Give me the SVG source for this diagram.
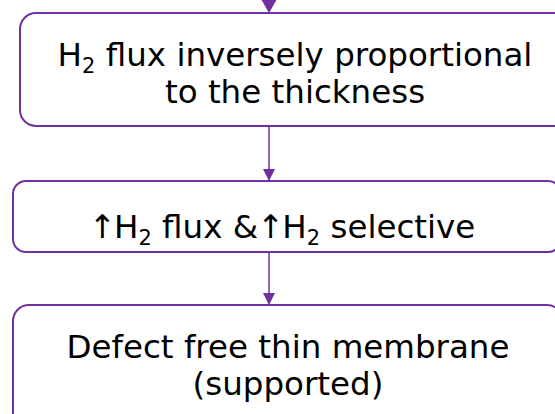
<svg xmlns="http://www.w3.org/2000/svg" width="555" height="414" viewBox="0 0 555 414">
  <style>
    .box { fill: #ffffff; stroke: #7030a0; stroke-width: 2; }
    .lbl { font-family: "DejaVu Sans", Verdana, sans-serif; font-size: 32.5px; fill: #000000; text-anchor: middle; }
    .sub { font-size: 21px; }
    .arr { letter-spacing: -2px; }
    .link { stroke: #7030a0; stroke-width: 1.5; fill: none; }
  </style>
  <defs>
    <marker id="head" viewBox="0 0 12 12" refX="12" refY="6" markerWidth="12" markerHeight="12" markerUnits="userSpaceOnUse" orient="auto">
      <path d="M0,0 L12,6 L0,12 Z" fill="#7030a0"/>
    </marker>
  </defs>
  <rect width="555" height="414" fill="#ffffff"/>

  <!-- connectors -->
  <g id="connectors">
    <line class="link" x1="269" y1="-10" x2="269" y2="2" stroke-width="2"/>
    <polygon points="261,-1 277,-1 269,13" fill="#7030a0"/>
    <line class="link" x1="269" y1="126" x2="269" y2="181" marker-end="url(#head)"/>
    <line class="link" x1="269" y1="252" x2="269" y2="305" marker-end="url(#head)"/>
  </g>

  <!-- flux vs thickness -->
  <g id="node-flux">
    <rect class="box" x="20" y="13" width="550" height="113" rx="16" ry="16"/>
    <text class="lbl" x="295" y="66">H<tspan class="sub" dy="7">2</tspan><tspan dy="-7"> flux inversely proportional</tspan></text>
    <text class="lbl" x="295" y="103">to the thickness</text>
  </g>

  <!-- flux and selectivity -->
  <g id="node-selective">
    <rect class="box" x="13" y="181" width="548" height="71" rx="13" ry="13"/>
    <text class="lbl" x="287" y="238"><tspan class="arr" dx="-5">↑</tspan>H<tspan class="sub" dy="7">2</tspan><tspan dy="-7"> flux &amp;</tspan><tspan class="arr" dx="-1">↑</tspan>H<tspan class="sub" dy="7">2</tspan><tspan dy="-7"> selective</tspan></text>
  </g>

  <!-- membrane -->
  <g id="node-membrane">
    <rect class="box" x="13" y="305" width="550" height="130" rx="16" ry="16"/>
    <text class="lbl" x="288" y="358">Defect free thin membrane</text>
    <text class="lbl" x="288" y="395">(supported)</text>
  </g>
</svg>
